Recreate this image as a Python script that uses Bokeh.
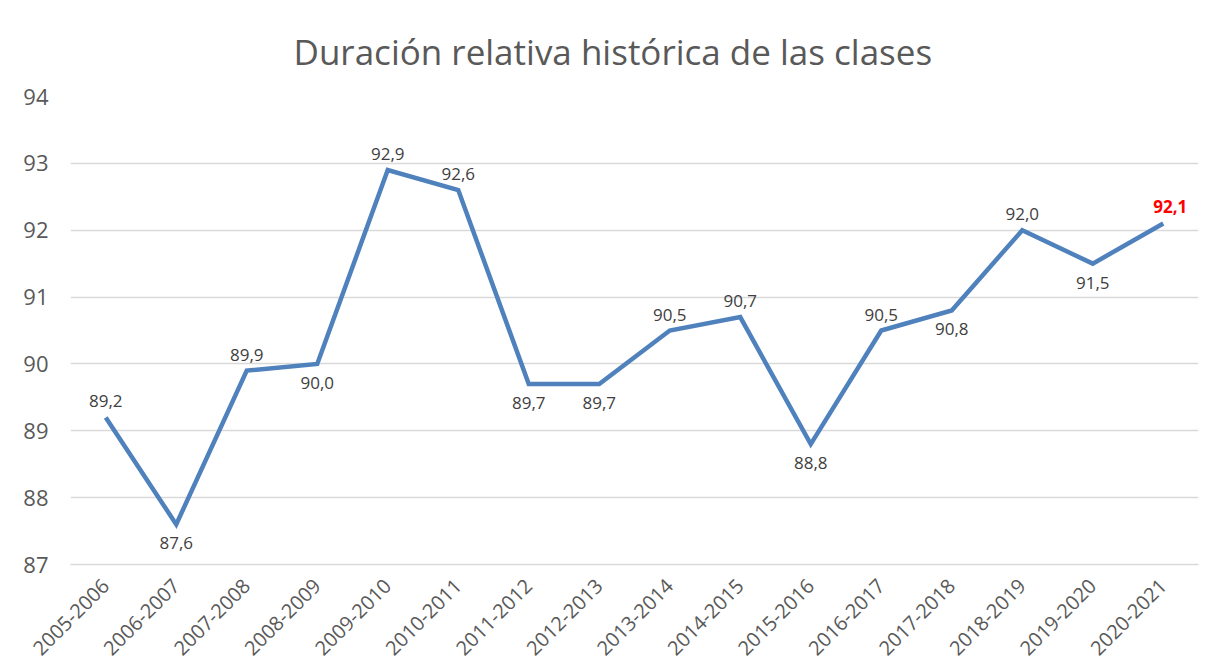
from bokeh.plotting import figure
from bokeh.models import LabelSet, ColumnDataSource, FixedTicker
from bokeh.embed import file_html
from bokeh.resources import INLINE
from bokeh.core.properties import value
import math

# ---- data ----
categories = ["2005-2006", "2006-2007", "2007-2008", "2008-2009", "2009-2010",
              "2010-2011", "2011-2012", "2012-2013", "2013-2014", "2014-2015",
              "2015-2016", "2016-2017", "2017-2018", "2018-2019", "2019-2020",
              "2020-2021"]
values = [89.2, 87.6, 89.9, 90.0, 92.9, 92.6, 89.7, 89.7, 90.5, 90.7,
          88.8, 90.5, 90.8, 92.0, 91.5, 92.1]
label_side = ["above", "below", "above", "below", "above", "above", "below", "below",
              "above", "above", "below", "above", "below", "above", "below", "above"]
y_ticks = [87, 88, 89, 90, 91, 92, 93, 94]
title_text = "Duración relativa histórica de las clases"

FONT = "Open Sans"
TEXT_GREY = "#595959"
LABEL_GREY = "#404040"
LINE_BLUE = "#4F81BD"
GRID = "#d9d9d9"

W, H = 1209, 670
p = figure(width=W, height=H, x_range=categories, y_range=(87, 94),
           output_backend="svg", toolbar_location=None,
           min_border_left=70, min_border_right=11, min_border_top=96,
           min_border_bottom=106)
p.title.text = title_text
p.title.align = "left"
p.title.offset = 223
p.title.standoff = 43
p.title.text_font = FONT
p.title.text_font_size = "35px"
p.title.text_font_style = "normal"
p.title.text_color = TEXT_GREY

p.outline_line_color = None
p.background_fill_color = "white"
p.border_fill_color = "white"

p.xgrid.grid_line_color = None
p.ygrid.grid_line_color = GRID
p.ygrid.grid_line_width = 1.5
p.yaxis.ticker = FixedTicker(ticks=y_ticks)
p.yaxis.axis_line_color = None
p.yaxis.major_tick_line_color = None
p.yaxis.minor_tick_line_color = None
p.yaxis.major_tick_out = 0
p.yaxis.major_label_standoff = 22
p.yaxis.major_label_text_font = FONT
p.yaxis.major_label_text_font_size = "22px"
p.yaxis.major_label_text_color = TEXT_GREY

p.xaxis.axis_line_color = GRID
p.xaxis.axis_line_width = 1.5
p.xaxis.major_tick_line_color = None
p.xaxis.minor_tick_line_color = None
p.xaxis.major_tick_out = 0
p.xaxis.major_label_standoff = 18
p.xaxis.major_label_orientation = math.pi / 4
p.xaxis.major_label_text_font = FONT
p.xaxis.major_label_text_font_size = "20px"
p.xaxis.major_label_text_color = TEXT_GREY

p.line(categories, values, line_color=LINE_BLUE, line_width=4.5, line_join="miter")

# data labels
n = len(values)
reg = list(range(n - 1))
src = ColumnDataSource(dict(
    x=[categories[i] for i in reg],
    y=[values[i] for i in reg],
    t=[f"{values[i]:.1f}".replace(".", ",") for i in reg],
    dy=[16 if label_side[i] == "above" else -19 for i in reg],
))
p.add_layout(LabelSet(x="x", y="y", text="t", source=src, y_offset="dy",
                      text_align="center", text_baseline="middle",
                      text_font=value(FONT), text_font_size="17px",
                      text_color=LABEL_GREY))
last = n - 1
src2 = ColumnDataSource(dict(x=[categories[last]], y=[values[last]],
                             t=[f"{values[last]:.1f}".replace(".", ",")]))
p.add_layout(LabelSet(x="x", y="y", text="t", source=src2, y_offset=17, x_offset=7,
                      text_align="center", text_baseline="middle",
                      text_font=value(FONT), text_font_size="17px",
                      text_font_style="bold", text_color="red"))

open("out.html", "w").write(file_html(p, INLINE))
